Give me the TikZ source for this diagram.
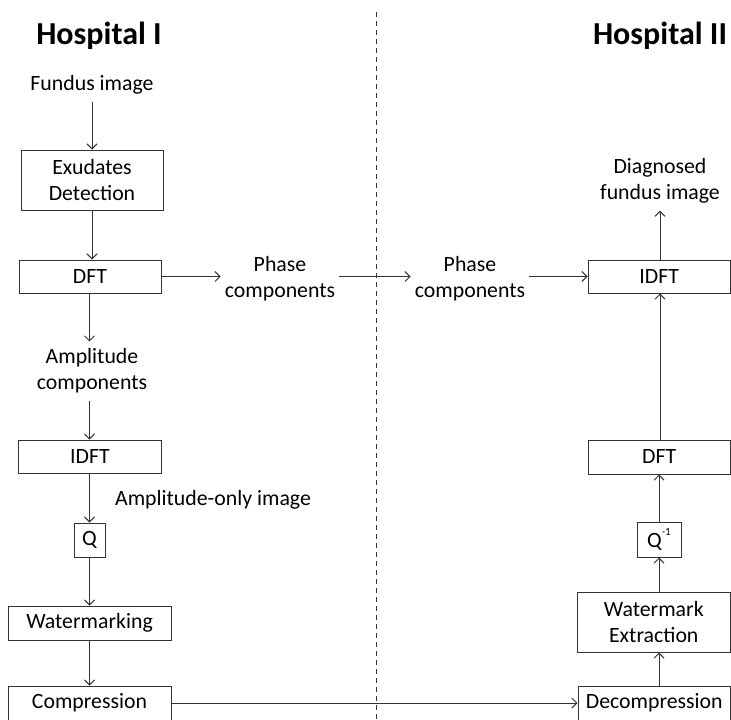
\documentclass[tikz,border=0pt]{standalone}
\usepackage{fontspec}
\setmainfont{Carlito}
\usetikzlibrary{arrows.meta}
\definecolor{linegray}{HTML}{333333}
\tikzset{
  stepbox/.style={draw=linegray, line width=1pt, inner sep=0pt, align=center,
    font=\fontsize{21.8}{26}\selectfont},
  label/.style={inner xsep=4pt, inner ysep=7pt, align=center,
    font=\fontsize{21.8}{26}\selectfont},
  title/.style={inner sep=0pt, font=\fontsize{32}{36}\selectfont\bfseries},
  arr/.style={draw=linegray, line width=1pt, -{Straight Barb[length=5pt,width=10pt,line width=1pt]}},
}
\begin{document}
\begin{tikzpicture}[x=1pt,y=-1pt]
\useasboundingbox (0,0) rectangle (731,720);
\clip (0,0) rectangle (731,720);
% divider
\draw[linegray, line width=1pt, dash pattern=on 5pt off 4pt] (376,12) -- (376,720);
% titles
\node[title] (h1) at (99,36) {Hospital I};
\node[title] (h2) at (660,36) {Hospital II};
% Hospital I
\node[label] (fundus) at (92,85) {Fundus image};
\node[stepbox, minimum width=142pt, minimum height=60pt] (exu) at (92,180) {Exudates\\Detection};
\node[stepbox, minimum width=142pt, minimum height=33pt] (dft1) at (90,276.5) {DFT};
\node[label] (ph1) at (280,279) {Phase\\components};
\node[label] (amp) at (92,371) {Amplitude\\components};
\node[stepbox, minimum width=143pt, minimum height=33pt] (idft1) at (90,456.5) {IDFT};
\node[label, anchor=west, inner xsep=0pt] (aoi) at (115,500) {Amplitude-only image};
\node[stepbox, minimum width=31pt, minimum height=34pt] (q) at (89.5,540) {Q};
\node[stepbox, minimum width=163pt, minimum height=34pt] (wm) at (89.5,623) {Watermarking};
\node[stepbox, minimum width=163pt, minimum height=34pt] (comp) at (89.5,703) {Compression};
% Hospital II
\node[label] (ph2) at (470,279) {Phase\\components};
\node[stepbox, minimum width=142.5pt, minimum height=33pt] (idft2) at (659.25,276.5) {IDFT};
\node[label] (diag) at (660,181) {Diagnosed\\fundus image};
\node[stepbox, minimum width=142.5pt, minimum height=34pt] (dft2) at (659.25,457) {DFT};
\node[stepbox, minimum width=44pt, minimum height=35pt] (qinv) at (659,539.5) {Q\raisebox{0.55em}{\fontsize{11}{11}\selectfont -1}};
\node[stepbox, minimum width=153.5pt, minimum height=60pt] (wext) at (653.75,622) {Watermark\\Extraction};
\node[stepbox, minimum width=152.5pt, minimum height=34pt] (dec) at (654.25,703) {Decompression};
% connectors Hospital I
\draw[arr] (fundus.south) -- (exu.north);
\draw[arr] (exu.south) -- (exu.south |- dft1.north);
\draw[arr] (dft1.south -| q.north) -- (amp.north -| q.north);
\draw[arr] (dft1.east) -- (dft1.east -| ph1.west);
\draw[arr] (ph1.east |- dft1.east) -- (ph2.west |- dft1.east);
\draw[arr] (amp.south -| q.north) -- (idft1.north -| q.north);
\draw[arr] (idft1.south -| q.north) -- (q.north);
\draw[arr] (q.south) -- (q.south |- wm.north);
\draw[arr] (wm.south) -- (comp.north);
\draw[arr] (comp.east) -- (comp.east -| dec.west);
% connectors Hospital II
\draw[arr] (ph2.east |- idft2.west) -- (idft2.west);
\draw[arr] (idft2.north -| diag.south) -- (diag.south);
\draw[arr] (dft2.north -| diag.south) -- (idft2.south -| diag.south);
\draw[arr] (qinv.north) -- (qinv.north |- dft2.south);
\draw[arr] (wext.north -| qinv.south) -- (qinv.south);
\draw[arr] (dec.north -| qinv.south) -- (wext.south -| qinv.south);
\end{tikzpicture}
\end{document}
